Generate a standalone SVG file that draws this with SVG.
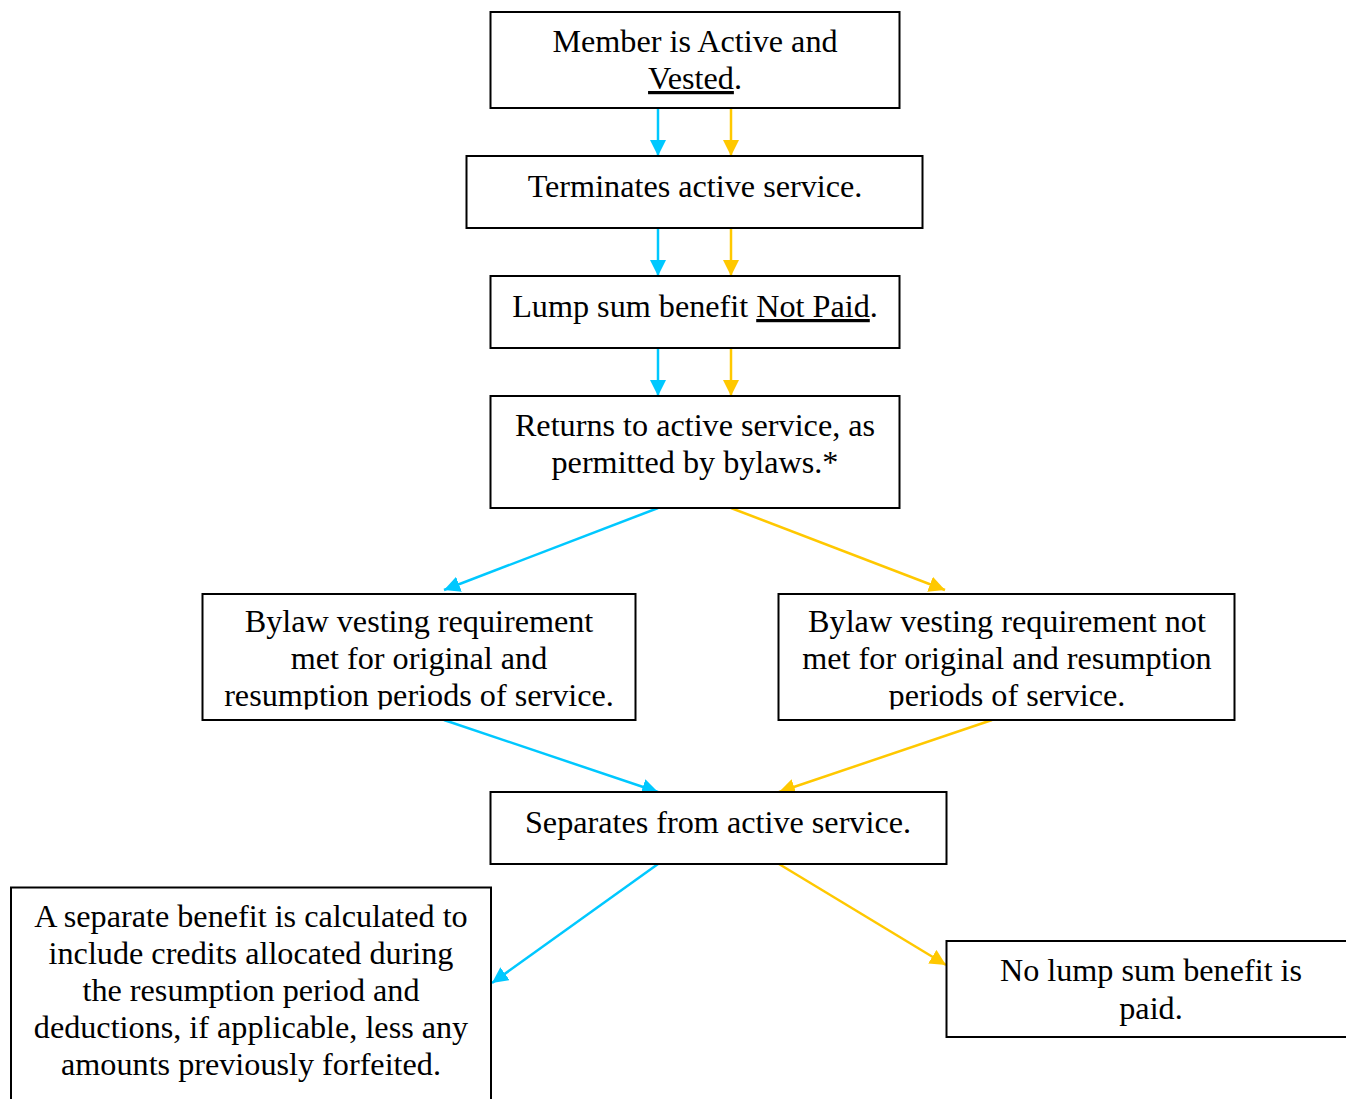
<svg xmlns="http://www.w3.org/2000/svg" width="1346" height="1099" viewBox="0 0 1346 1099">
  <defs>
    <style>
      .box { fill: #ffffff; stroke: #000000; stroke-width: 2; }
      .txt { font-family: "Liberation Serif", "Times New Roman", serif; font-size: 32.2px; fill: #000000; text-anchor: middle; }
      .blue { stroke: #00C8FF; stroke-width: 2.5; fill: none; }
      .gold { stroke: #FFC800; stroke-width: 2.5; fill: none; }
    </style>
    <marker id="headBlue" viewBox="0 0 16 16" refX="16" refY="8" markerWidth="16" markerHeight="16" markerUnits="userSpaceOnUse" orient="auto">
      <path d="M0,0 L16,8 L0,16 Z" fill="#00C8FF"/>
    </marker>
    <marker id="headGold" viewBox="0 0 16 16" refX="16" refY="8" markerWidth="16" markerHeight="16" markerUnits="userSpaceOnUse" orient="auto">
      <path d="M0,0 L16,8 L0,16 Z" fill="#FFC800"/>
    </marker>
    <clipPath id="clipLeftBylaw"><rect x="203" y="595" width="431" height="114.5"/></clipPath>
    <clipPath id="clipRightBylaw"><rect x="780" y="595" width="454" height="114.5"/></clipPath>
  </defs>

  <rect width="1346" height="1099" fill="#ffffff"/>

  <!-- connectors -->
  <g id="connectors">
    <line class="blue" x1="658" y1="108" x2="658" y2="156" marker-end="url(#headBlue)"/>
    <line class="gold" x1="731" y1="108" x2="731" y2="156" marker-end="url(#headGold)"/>
    <line class="blue" x1="658" y1="228" x2="658" y2="276" marker-end="url(#headBlue)"/>
    <line class="gold" x1="731" y1="228" x2="731" y2="276" marker-end="url(#headGold)"/>
    <line class="blue" x1="658" y1="348" x2="658" y2="396" marker-end="url(#headBlue)"/>
    <line class="gold" x1="731" y1="348" x2="731" y2="396" marker-end="url(#headGold)"/>
    <line class="blue" x1="658" y1="508" x2="444" y2="590" marker-end="url(#headBlue)"/>
    <line class="gold" x1="731" y1="508" x2="945" y2="590" marker-end="url(#headGold)"/>
    <line class="blue" x1="444" y1="720" x2="658" y2="792" marker-end="url(#headBlue)"/>
    <line class="gold" x1="992" y1="720" x2="779" y2="792" marker-end="url(#headGold)"/>
    <line class="blue" x1="658" y1="864" x2="492" y2="983" marker-end="url(#headBlue)"/>
    <line class="gold" x1="779" y1="864" x2="946" y2="965" marker-end="url(#headGold)"/>
  </g>

  <g id="member-active">
    <rect class="box" x="490.5" y="12" width="409" height="96"/>
    <text class="txt" x="695" y="52">Member is Active and</text>
    <text class="txt" x="695" y="89"><tspan text-decoration="underline">Vested</tspan>.</text>
  </g>

  <g id="terminates">
    <rect class="box" x="466.5" y="156" width="456" height="72"/>
    <text class="txt" x="695" y="197">Terminates active service.</text>
  </g>

  <g id="lump-not-paid">
    <rect class="box" x="490.5" y="276" width="409" height="72"/>
    <text class="txt" x="695" y="317">Lump sum benefit <tspan text-decoration="underline">Not Paid</tspan>.</text>
  </g>

  <g id="returns">
    <rect class="box" x="490.5" y="396" width="409" height="112"/>
    <text class="txt" x="695" y="436">Returns to active service, as</text>
    <text class="txt" x="695" y="473">permitted by bylaws.*</text>
  </g>

  <g id="vesting-met">
    <rect class="box" x="202.5" y="594" width="433" height="126"/>
    <g clip-path="url(#clipLeftBylaw)">
      <text class="txt" x="419" y="632">Bylaw vesting requirement</text>
      <text class="txt" x="419" y="669">met for original and</text>
      <text class="txt" x="419" y="706">resumption periods of service.</text>
    </g>
  </g>

  <g id="vesting-not-met">
    <rect class="box" x="778.5" y="594" width="456" height="126"/>
    <g clip-path="url(#clipRightBylaw)">
      <text class="txt" x="1007" y="632">Bylaw vesting requirement not</text>
      <text class="txt" x="1007" y="669">met for original and resumption</text>
      <text class="txt" x="1007" y="706">periods of service.</text>
    </g>
  </g>

  <g id="separates">
    <rect class="box" x="490.5" y="792" width="456" height="72"/>
    <text class="txt" x="718" y="833">Separates from active service.</text>
  </g>

  <g id="separate-benefit">
    <rect class="box" x="11" y="887.5" width="480" height="230"/>
    <text class="txt" x="251" y="927">A separate benefit is calculated to</text>
    <text class="txt" x="251" y="964">include credits allocated during</text>
    <text class="txt" x="251" y="1001">the resumption period and</text>
    <text class="txt" x="251" y="1038">deductions, if applicable, less any</text>
    <text class="txt" x="251" y="1075">amounts previously forfeited.</text>
  </g>

  <g id="no-lump-sum">
    <rect class="box" x="946.5" y="941" width="420" height="96"/>
    <text class="txt" x="1151" y="981">No lump sum benefit is</text>
    <text class="txt" x="1151" y="1019">paid.</text>
  </g>
</svg>
